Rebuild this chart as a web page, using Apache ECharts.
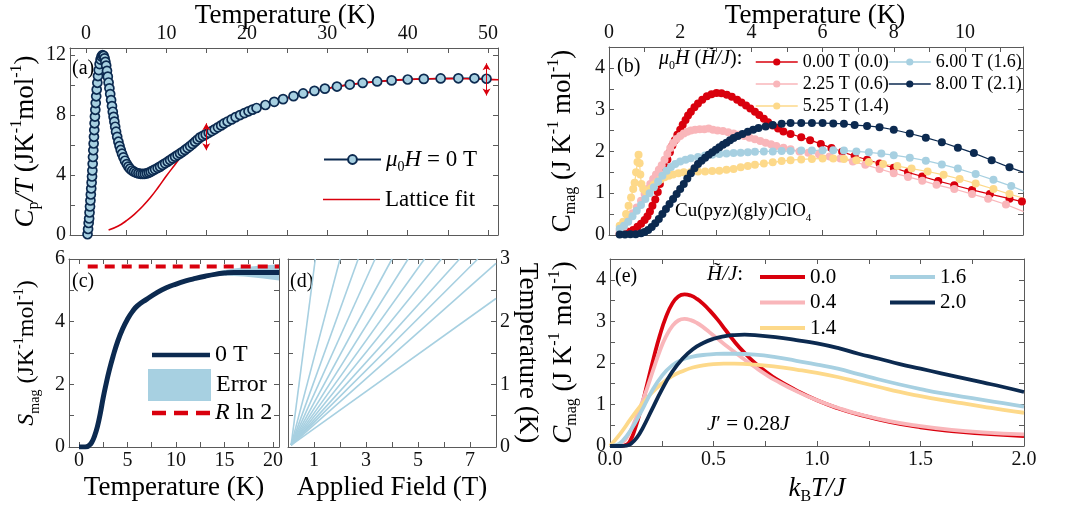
<!DOCTYPE html>
<html>
<head>
<meta charset="utf-8">
<script src="https://cdn.jsdelivr.net/npm/echarts@6/dist/echarts.min.js"></script>
<style>
  html, body { margin: 0; padding: 0; background: #fff; }
  #chart { width: 1074px; height: 514px; }
</style>
</head>
<body>
<div id="chart"></div>
<script>
// ---- panel (a): Cp/T vs T ----
const cpData = [[0.18,0.05],[0.25,0.4],[0.32,0.8],[0.38,1.1],[0.43,1.5],[0.49,1.9],[0.54,2.3],[0.59,2.7],[0.64,3.1],[0.69,3.5],[0.74,3.9],[0.78,4.3],[0.82,4.75],[0.86,5.2],[0.9,5.65],[0.94,6.1],[0.98,6.55],[1.02,7.0],[1.06,7.45],[1.1,7.9],[1.15,8.35],[1.2,8.8],[1.26,9.25],[1.32,9.7],[1.4,10.15],[1.48,10.6],[1.57,11.0],[1.68,11.4],[1.8,11.7],[1.92,11.9],[2.05,12.0],[2.18,11.95],[2.3,11.78],[2.4,11.55],[2.5,11.3],[2.6,10.95],[2.7,10.56],[2.8,10.17],[2.9,9.78],[3.0,9.4],[3.11,9.0],[3.22,8.6],[3.32,8.22],[3.42,7.88],[3.52,7.56],[3.62,7.22],[3.73,6.89],[3.87,6.55],[4.02,6.22],[4.16,5.93],[4.31,5.67],[4.47,5.42],[4.64,5.18],[4.84,4.95],[5.06,4.73],[5.26,4.56],[5.47,4.42],[5.72,4.3],[5.97,4.22],[6.24,4.15],[6.51,4.11],[6.78,4.08],[7.05,4.07],[7.3,4.08],[7.55,4.11],[7.8,4.16],[8.04,4.22],[8.3,4.3],[8.58,4.38],[8.9,4.47],[9.2,4.56],[9.5,4.67],[9.83,4.78],[10.15,4.89],[10.45,5.0],[10.76,5.11],[11.07,5.22],[11.38,5.33],[11.69,5.44],[12.0,5.55],[12.3,5.67],[12.62,5.8],[12.94,5.93],[13.25,6.07],[13.56,6.22],[13.87,6.37],[14.18,6.51],[14.53,6.61],[14.88,6.71],[15.25,6.82],[15.63,6.93],[16.0,7.05],[16.4,7.18],[16.8,7.31],[17.16,7.44],[17.6,7.57],[18.1,7.71],[18.6,7.86],[19.15,8.0],[19.7,8.13],[20.2,8.25],[20.7,8.36],[21.2,8.47],[22.3,8.67],[23.4,8.88],[24.5,9.06],[25.8,9.26],[27.0,9.44],[28.4,9.61],[29.7,9.76],[31.2,9.9],[32.8,10.03],[34.4,10.14],[36.2,10.24],[38.0,10.31],[40.0,10.37],[42.0,10.41],[44.1,10.44],[46.3,10.45],[48.3,10.45],[49.8,10.42]]
const latticeFit = [[2.8,0.33],[4,0.6],[5,0.95],[6,1.38],[7,1.9],[8,2.5],[9,3.2],[10,3.95],[11,4.65],[12,5.34],[13,5.88],[14,6.32],[15,6.7],[16,7.02],[17,7.33],[18,7.65],[19,7.95],[20,8.2],[22,8.63],[24,8.98],[26,9.28],[28,9.54],[30,9.77],[32,9.96],[34,10.11],[36,10.22],[38,10.31],[40,10.37],[42,10.41],[44,10.43],[46,10.43],[48,10.41],[50,10.38],[51.3,10.35]]
const fitArrows = [[14.95, 7.45, 5.65], [49.8, 11.45, 9.3]]   // T, top, bottom

// ---- panel (b): Cmag vs T, five fields ----
const b000 = [[0.3,0.03],[0.42,0.05],[0.55,0.08],[0.68,0.12],[0.8,0.2],[0.9,0.27],[1.0,0.36],[1.08,0.45],[1.15,0.56],[1.22,0.7],[1.3,0.85],[1.37,1.03],[1.43,1.22],[1.5,1.42],[1.57,1.62],[1.64,1.81],[1.71,1.98],[1.78,2.14],[1.85,2.27],[1.92,2.4],[2.0,2.52],[2.07,2.64],[2.15,2.75],[2.22,2.86],[2.3,2.95],[2.4,3.06],[2.5,3.15],[2.62,3.24],[2.75,3.32],[2.88,3.37],[3.02,3.4],[3.16,3.39],[3.31,3.36],[3.45,3.31],[3.6,3.24],[3.72,3.17],[3.85,3.1],[3.97,3.03],[4.1,2.95],[4.22,2.87],[4.35,2.78],[4.47,2.7],[4.6,2.62],[4.75,2.55],[4.9,2.48],[5.1,2.42],[5.4,2.34],[5.65,2.27],[5.95,2.18],[6.25,2.08],[6.55,1.99],[6.9,1.89],[7.25,1.8],[7.6,1.71],[8.0,1.61],[8.4,1.5],[8.8,1.4],[9.25,1.29],[9.7,1.19],[10.2,1.08],[10.7,0.98],[11.25,0.87],[11.6,0.8]]
const b225 = [[0.3,0.1],[0.42,0.2],[0.54,0.36],[0.66,0.52],[0.78,0.66],[0.9,0.82],[1.0,0.98],[1.08,1.1],[1.16,1.22],[1.24,1.34],[1.32,1.45],[1.4,1.56],[1.48,1.67],[1.56,1.8],[1.64,1.94],[1.72,2.08],[1.8,2.2],[1.9,2.3],[2.0,2.37],[2.1,2.43],[2.2,2.47],[2.3,2.5],[2.42,2.52],[2.55,2.53],[2.68,2.53],[2.8,2.55],[2.92,2.52],[3.05,2.5],[3.2,2.49],[3.35,2.46],[3.5,2.43],[3.65,2.4],[3.8,2.37],[3.95,2.33],[4.1,2.29],[4.25,2.25],[4.4,2.21],[4.55,2.17],[4.7,2.13],[4.9,2.09],[5.1,2.05],[5.35,2.0],[5.6,1.97],[5.9,1.93],[6.2,1.88],[6.5,1.83],[6.85,1.76],[7.2,1.68],[7.6,1.58],[8.0,1.48],[8.4,1.39],[8.8,1.3],[9.2,1.2],[9.7,1.1],[10.2,0.98],[10.65,0.87],[11.15,0.73],[11.65,0.56]]
const b525 = [[0.3,0.22],[0.4,0.32],[0.48,0.5],[0.55,0.7],[0.62,0.9],[0.68,1.1],[0.72,1.25],[0.76,1.5],[0.8,1.75],[0.83,1.92],[0.86,1.72],[0.88,1.45],[0.91,1.22],[0.96,1.1],[1.03,1.05],[1.1,1.06],[1.18,1.12],[1.26,1.2],[1.35,1.27],[1.45,1.33],[1.56,1.38],[1.68,1.42],[1.8,1.45],[1.95,1.48],[2.1,1.5],[2.3,1.51],[2.5,1.52],[2.7,1.52],[2.9,1.53],[3.1,1.54],[3.3,1.56],[3.5,1.58],[3.7,1.62],[3.9,1.65],[4.1,1.68],[4.35,1.71],[4.6,1.74],[4.85,1.77],[5.1,1.79],[5.4,1.81],[5.7,1.82],[6.0,1.83],[6.3,1.83],[6.6,1.82],[6.95,1.79],[7.3,1.75],[7.7,1.7],[8.1,1.65],[8.5,1.59],[8.95,1.52],[9.4,1.44],[9.85,1.34],[10.3,1.23],[10.8,1.1],[11.25,0.98],[11.65,0.88]]
const b600 = [[0.3,0.15],[0.42,0.22],[0.54,0.32],[0.66,0.45],[0.78,0.58],[0.9,0.72],[1.02,0.86],[1.14,1.0],[1.26,1.14],[1.38,1.28],[1.5,1.42],[1.62,1.54],[1.74,1.63],[1.86,1.7],[2.0,1.76],[2.15,1.8],[2.3,1.84],[2.5,1.87],[2.7,1.9],[2.9,1.92],[3.1,1.94],[3.3,1.95],[3.5,1.96],[3.7,1.97],[3.9,1.98],[4.1,1.99],[4.35,2.0],[4.6,2.0],[4.85,2.01],[5.1,2.01],[5.4,2.02],[5.7,2.02],[6.0,2.03],[6.3,2.03],[6.6,2.02],[6.95,2.0],[7.3,1.98],[7.65,1.95],[8.0,1.91],[8.45,1.85],[8.9,1.78],[9.35,1.69],[9.8,1.59],[10.3,1.46],[10.8,1.32],[11.3,1.17],[11.65,1.05]]
const b800 = [[0.3,0.01],[0.45,0.01],[0.6,0.02],[0.75,0.02],[0.9,0.04],[1.0,0.07],[1.1,0.12],[1.2,0.19],[1.3,0.28],[1.4,0.38],[1.5,0.5],[1.6,0.62],[1.7,0.74],[1.8,0.86],[1.9,0.98],[2.0,1.1],[2.1,1.22],[2.2,1.35],[2.3,1.48],[2.4,1.6],[2.5,1.7],[2.6,1.78],[2.7,1.85],[2.8,1.92],[2.9,1.98],[3.0,2.04],[3.1,2.1],[3.2,2.16],[3.3,2.21],[3.4,2.27],[3.5,2.32],[3.62,2.37],[3.75,2.42],[3.9,2.47],[4.05,2.52],[4.2,2.56],[4.4,2.6],[4.6,2.63],[4.85,2.66],[5.1,2.68],[5.4,2.68],[5.7,2.68],[6.0,2.68],[6.3,2.67],[6.6,2.66],[6.9,2.63],[7.25,2.61],[7.6,2.58],[8.0,2.52],[8.45,2.43],[8.9,2.33],[9.35,2.22],[9.8,2.09],[10.25,1.96],[10.75,1.79],[11.25,1.62],[11.65,1.5]]

// ---- panel (c): entropy ----
const sMag = [[0,0],[0.5,0],[0.8,0.01],[1.0,0.04],[1.3,0.14],[1.6,0.35],[1.9,0.65],[2.2,1.08],[2.5,1.58],[2.8,2.02],[3.1,2.42],[3.5,2.88],[4.0,3.38],[4.5,3.77],[5.0,4.08],[5.5,4.32],[6.0,4.5],[7.0,4.72],[8.0,4.92],[9.0,5.08],[10.0,5.2],[11.0,5.3],[12.0,5.38],[13.0,5.45],[14.0,5.51],[15.0,5.55],[16.0,5.57],[17.0,5.57],[18.0,5.57],[19.0,5.57],[20.0,5.57],[20.62,5.57]]
const errT = [12.5, 13, 14, 15, 16, 17, 18, 19, 20, 20.62]
const errLow = [5.4, 5.43, 5.46, 5.47, 5.46, 5.44, 5.41, 5.38, 5.34, 5.31]
const errHigh = [5.42, 5.5, 5.58, 5.65, 5.7, 5.74, 5.77, 5.8, 5.82, 5.83]
const rln2 = [[0.9, 5.76], [20.62, 5.76]]

// ---- panel (d): phase lines (field, temperature) ----
const dStart = [0.12, 0.03]
const dEndField = [1.05, 2.0, 2.7, 3.35, 4.0, 4.62, 5.25, 5.9, 6.6, 7.3, 8, 8]
const dEndTemp = [3, 3, 3, 3, 3, 3, 3, 3, 3, 3, 2.93, 2.37]

// ---- panel (e): model Cmag vs kBT/J ----
const e00 = [[0,0],[0.05,0],[0.08,0.03],[0.1,0.15],[0.12,0.4],[0.15,0.9],[0.18,1.5],[0.21,2.1],[0.24,2.65],[0.27,3.1],[0.3,3.42],[0.33,3.6],[0.36,3.65],[0.39,3.62],[0.42,3.54],[0.45,3.42],[0.48,3.27],[0.52,3.04],[0.56,2.78],[0.6,2.52],[0.65,2.24],[0.7,2.0],[0.75,1.8],[0.8,1.62],[0.9,1.34],[1.0,1.1],[1.1,0.91],[1.2,0.76],[1.35,0.58],[1.5,0.45],[1.65,0.36],[1.8,0.3],[2.0,0.24]]
const e04 = [[0,0],[0.03,0.01],[0.06,0.08],[0.09,0.28],[0.12,0.6],[0.15,0.98],[0.18,1.4],[0.21,1.85],[0.24,2.28],[0.27,2.63],[0.3,2.88],[0.33,3.02],[0.36,3.06],[0.39,3.03],[0.42,2.96],[0.45,2.86],[0.48,2.74],[0.52,2.58],[0.56,2.42],[0.6,2.27],[0.65,2.08],[0.7,1.9],[0.75,1.73],[0.8,1.58],[0.9,1.32],[1.0,1.1],[1.1,0.92],[1.2,0.77],[1.35,0.6],[1.5,0.48],[1.65,0.39],[1.8,0.33],[2.0,0.28]]
const e14 = [[0,0],[0.05,0.3],[0.1,0.65],[0.15,0.98],[0.2,1.27],[0.25,1.5],[0.3,1.68],[0.35,1.8],[0.4,1.89],[0.45,1.94],[0.5,1.97],[0.55,1.98],[0.6,1.98],[0.7,1.96],[0.8,1.91],[0.9,1.84],[1.0,1.76],[1.1,1.66],[1.2,1.54],[1.3,1.42],[1.4,1.3],[1.5,1.2],[1.6,1.11],[1.7,1.03],[1.8,0.95],[1.9,0.87],[2.0,0.8]]
const e16 = [[0,0],[0.03,0.02],[0.06,0.12],[0.1,0.38],[0.15,0.82],[0.2,1.3],[0.25,1.68],[0.3,1.94],[0.35,2.08],[0.4,2.15],[0.45,2.19],[0.5,2.21],[0.55,2.22],[0.6,2.22],[0.7,2.2],[0.8,2.14],[0.9,2.05],[1.0,1.96],[1.1,1.86],[1.2,1.73],[1.3,1.6],[1.4,1.48],[1.5,1.37],[1.6,1.27],[1.7,1.19],[1.8,1.11],[1.9,1.03],[2.0,0.95]]
const e20 = [[0,0],[0.05,0],[0.08,0.01],[0.1,0.05],[0.13,0.2],[0.16,0.45],[0.2,0.85],[0.25,1.35],[0.3,1.78],[0.35,2.1],[0.4,2.33],[0.45,2.48],[0.5,2.58],[0.55,2.64],[0.6,2.67],[0.65,2.68],[0.7,2.67],[0.8,2.62],[0.9,2.55],[1.0,2.47],[1.1,2.36],[1.2,2.22],[1.3,2.1],[1.4,1.97],[1.5,1.86],[1.6,1.75],[1.7,1.64],[1.8,1.53],[1.9,1.42],[2.0,1.3]]

const FONT = 'Liberation Serif'
const NAVY = '#0c2a50'
const LBLUE = '#a7d0e1'
const RED = '#d9000d'
const PINK = '#f9b6ba'
const YELLOW = '#fdd98a'
const FRAME = '#5a5a5a'

// rich text styles for sub/superscripts
function richSet(size) {
  const s = Math.round(size * 0.6)
  return {
    n: { fontFamily: FONT, fontSize: size, lineHeight: size + 6, color: '#000' },
    i: { fontFamily: FONT, fontSize: size, lineHeight: size + 6, fontStyle: 'italic', color: '#000' },
    sub: { fontFamily: FONT, fontSize: s, lineHeight: s, verticalAlign: 'bottom', color: '#000' },
    sup: { fontFamily: FONT, fontSize: s, lineHeight: s, verticalAlign: 'top', color: '#000' }
  }
}

function range(a, b, step) {
  const out = []
  for (let v = a; v <= b + 1e-9; v += step) out.push(Math.round(v * 1000) / 1000)
  return out
}

function axis(gridIndex, position, min, max, ticks, labels, more) {
  const a = {
    type: 'value', gridIndex, position, min, max,
    axisLine: { show: true, onZero: false, lineStyle: { color: FRAME, width: 1 } },
    axisTick: { show: true, inside: true, length: 5, customValues: ticks, lineStyle: { color: FRAME } },
    axisLabel: labels
      ? { show: true, customValues: labels, color: '#111', fontFamily: FONT, fontSize: 20, margin: 4 }
      : { show: false },
    splitLine: { show: false }
  }
  return Object.assign(a, more || {})
}

const xAxis = [
  axis(0, 'top', -2, 51.23, range(0, 50, 5), range(0, 50, 10)),
  axis(0, 'bottom', -2, 51.23, range(0, 50, 5), null),
  axis(1, 'top', 0, 11.63, range(0, 11, 1), range(0, 10, 2)),
  axis(1, 'bottom', 0, 11.63, range(1.5, 10.5, 1.5), null),
  axis(2, 'bottom', -1.03, 20.62, range(0, 20, 2.5), range(0, 20, 5), {
    name: 'Temperature (K)', nameLocation: 'middle', nameGap: 27,
    nameTextStyle: { fontFamily: FONT, fontSize: 27, color: '#000' }
  }),
  axis(2, 'top', -1.03, 20.62, range(0, 20, 2.5), null),
  axis(3, 'bottom', 0, 8, range(1, 7, 1), [1, 3, 5, 7], {
    name: 'Applied Field (T)', nameLocation: 'middle', nameGap: 27,
    nameTextStyle: { fontFamily: FONT, fontSize: 27, color: '#000' }
  }),
  axis(3, 'top', 0, 8, range(1, 7, 1), null),
  axis(4, 'bottom', 0, 2, range(0, 2, 0.25), range(0, 2, 0.5), {
    name: '{i|k}{sub|B}{i|T/J}', nameLocation: 'middle', nameGap: 26,
    nameTextStyle: { rich: richSet(27) }
  }),
  axis(4, 'top', 0, 2, range(0, 2, 0.25), null)
]
xAxis[8].axisLabel.formatter = v => v.toFixed(1)

const yAxis = [
  axis(0, 'left', 0, 12.47, range(0, 12, 2), range(0, 12, 4), {
    name: '{i|C}{sub|p}{i|/T}{n| (JK}{sup|-1}{n|mol}{sup|-1}{n|)}',
    nameLocation: 'middle', nameGap: 26, nameTextStyle: { rich: richSet(27) }
  }),
  axis(0, 'right', 0, 12.47, range(0, 12, 2), null),
  axis(1, 'left', 0, 4.5, range(0, 4.5, 0.5), range(0, 4, 1), {
    name: '{n|C}{sub|mag}{n| (J K}{sup|-1}{n| mol}{sup|-1}{n|)}',
    nameLocation: 'middle', nameGap: 30, nameTextStyle: { rich: richSet(27) }
  }),
  axis(1, 'right', 0, 4.5, range(0, 4.5, 0.5), null),
  axis(2, 'left', 0, 6, range(0, 6, 1), range(0, 6, 2), {
    name: '{i|S}{sub|mag}{n| (JK}{sup|-1}{n|mol}{sup|-1}{n|)}',
    nameLocation: 'middle', nameGap: 27, nameTextStyle: { rich: richSet(24) }
  }),
  axis(2, 'right', 0, 6, range(0, 6, 1), null),
  axis(3, 'right', 0, 3, range(0, 3, 0.5), range(0, 3, 1), {
    name: 'Temperature (K)', nameLocation: 'middle', nameGap: 9, nameRotate: -90,
    nameTextStyle: { fontFamily: FONT, fontSize: 27, color: '#000' }
  }),
  axis(3, 'left', 0, 3, range(0, 3, 0.5), null),
  axis(4, 'left', 0, 4.5, range(0, 4.5, 0.5), range(0, 4, 1), {
    name: '{i|C}{sub|mag}{n| (J K}{sup|-1}{n| mol}{sup|-1}{n|)}',
    nameLocation: 'middle', nameGap: 30, nameTextStyle: { rich: richSet(27) }
  }),
  axis(4, 'right', 0, 4.5, range(0, 4.5, 0.5), null)
]

const series = []

// (a)
series.push({
  name: 'mu', type: 'line', xAxisIndex: 0, yAxisIndex: 0, data: cpData,
  symbol: 'circle', symbolSize: 9,
  itemStyle: { color: LBLUE, borderColor: NAVY, borderWidth: 1.7 },
  lineStyle: { color: NAVY, width: 1.5 }
})
series.push({
  name: 'Lattice fit', type: 'line', xAxisIndex: 0, yAxisIndex: 0, data: latticeFit,
  symbol: 'none', smooth: true, color: RED, lineStyle: { color: RED, width: 1.6 },
  markLine: {
    silent: true, symbol: ['arrow', 'arrow'], symbolSize: [6, 7],
    lineStyle: { color: RED, width: 1, type: 'solid' }, label: { show: false },
    data: fitArrows.map(a => [{ coord: [a[0], a[1]] }, { coord: [a[0], a[2]] }])
  }
})

// (b)
const bSets = [
  ['0.00 T (0.0)', b000, RED],
  ['2.25 T (0.6)', b225, PINK],
  ['5.25 T (1.4)', b525, YELLOW],
  ['6.00 T (1.6)', b600, LBLUE],
  ['8.00 T (2.1)', b800, NAVY]
]
bSets.forEach(s => series.push({
  name: s[0], type: 'line', xAxisIndex: 2, yAxisIndex: 2, data: s[1],
  symbol: 'circle', symbolSize: 8, color: s[2],
  itemStyle: { color: s[2] }, lineStyle: { color: s[2], width: 1.2 }
}))

// (c) error band as a polygon between the low and high curves
series.push({
  name: 'Error', type: 'custom', xAxisIndex: 4, yAxisIndex: 4, color: LBLUE,
  itemStyle: { color: LBLUE }, data: [0], clip: true,
  renderItem: (params, api) => {
    const pts = errT.map((t, i) => api.coord([t, errHigh[i]]))
    for (let i = errT.length - 1; i >= 0; i--) pts.push(api.coord([errT[i], errLow[i]]))
    return { type: 'polygon', shape: { points: pts }, style: { fill: LBLUE } }
  }
})
series.push({
  name: '0 T', type: 'line', xAxisIndex: 4, yAxisIndex: 4, data: sMag, symbol: 'none', smooth: true,
  color: NAVY, lineStyle: { color: NAVY, width: 5 }
})
series.push({
  name: 'R ln 2', type: 'line', xAxisIndex: 4, yAxisIndex: 4, data: rln2, symbol: 'none',
  color: RED, lineStyle: { color: RED, width: 4, type: [10, 7] }
})

// (d)
dEndField.forEach((f, i) => series.push({
  name: 'd' + i, type: 'line', xAxisIndex: 6, yAxisIndex: 6, symbol: 'none',
  data: [dStart, [f, dEndTemp[i]]], lineStyle: { color: LBLUE, width: 1.6 }
}))

// (e)
const eSets = [['0.0', e00, RED], ['0.4', e04, PINK], ['1.4', e14, YELLOW], ['1.6', e16, LBLUE], ['2.0', e20, NAVY]]
eSets.forEach(s => series.push({
  name: s[0], type: 'line', xAxisIndex: 8, yAxisIndex: 8, data: s[1], symbol: 'none', smooth: true,
  color: s[2], lineStyle: { color: s[2], width: 3.8 }
}))
series.forEach(s => { s.silent = true; s.emphasis = { disabled: true } })

// legends
const lg = (o) => Object.assign({ orient: 'vertical', selectedMode: false, padding: 0 }, o)
const dashIcon = 'path://M0,0h14v4.5h-14zM22,0h14v4.5h-14zM44,0h14v4.5h-14z'
const legends = [
  lg({ data: ['mu'], left: 323, top: 148, itemWidth: 57, itemHeight: 11,
    textStyle: { rich: richSet(23) }, formatter: () => '{i|μ}{sub|0}{i|H}{n| = 0 T}' }),
  lg({ data: [{ name: 'Lattice fit', icon: 'rect' }], left: 323, top: 188, itemWidth: 57, itemHeight: 1.6,
    textStyle: { fontFamily: FONT, fontSize: 23, color: '#000' } }),
  lg({ data: ['0.00 T (0.0)', '2.25 T (0.6)', '5.25 T (1.4)'], left: 755, top: 52,
    itemWidth: 42, itemHeight: 9, itemGap: 2, lineStyle: { width: 1.5 },
    textStyle: { fontFamily: FONT, fontSize: 18, color: '#000', lineHeight: 20 } }),
  lg({ data: ['6.00 T (1.6)', '8.00 T (2.1)'], left: 888, top: 52,
    itemWidth: 42, itemHeight: 9, itemGap: 2, lineStyle: { width: 1.5 },
    textStyle: { fontFamily: FONT, fontSize: 18, color: '#000', lineHeight: 20 } }),
  lg({ data: [{ name: '0 T', icon: 'rect' }], left: 152, top: 341, itemWidth: 58, itemHeight: 4.5,
    textStyle: { fontFamily: FONT, fontSize: 24, color: '#000', lineHeight: 28 } }),
  lg({ data: [{ name: 'Error', icon: 'rect' }], left: 148, top: 369, itemWidth: 63, itemHeight: 32,
    textStyle: { fontFamily: FONT, fontSize: 24, color: '#000' } }),
  lg({ data: [{ name: 'R ln 2', icon: dashIcon }], left: 152, top: 401, itemWidth: 58, itemHeight: 4.5,
    textStyle: { rich: richSet(24) }, formatter: () => '{i|R}{n| ln 2}' }),
  lg({ data: ['0.0', '0.4', '1.4'].map(n => ({ name: n, icon: 'rect' })), left: 760, top: 265,
    itemWidth: 45, itemHeight: 3.8, itemGap: 1.5,
    textStyle: { fontFamily: FONT, fontSize: 21, color: '#000', lineHeight: 24 } }),
  lg({ data: ['1.6', '2.0'].map(n => ({ name: n, icon: 'rect' })), left: 890, top: 265,
    itemWidth: 45, itemHeight: 3.8, itemGap: 1.5,
    textStyle: { fontFamily: FONT, fontSize: 21, color: '#000', lineHeight: 24 } })
]

function label(text, left, top, size, rich) {
  return {
    type: 'text', left, top, silent: true,
    style: { text, rich: rich || undefined, font: size + 'px "' + FONT + '"', fill: '#000' }
  }
}
function title(text, x, y) {
  return {
    type: 'text', x, y, silent: true,
    style: { text, font: '27px "' + FONT + '"', fill: '#000', align: 'center', verticalAlign: 'middle' }
  }
}

const graphic = [
  title('Temperature (K)', 285, 16),
  title('Temperature (K)', 815, 16),
  label('(a)', 72, 59, 20),
  label('(b)', 617, 57, 20),
  label('(c)', 72, 272, 20),
  label('(d)', 290, 272, 20),
  label('(e)', 615, 267, 20),
  label('{i|μ}{sub|0}{i|H}{n| (}{i|H\u0303/J}{n|):}', 659, 49, 20, richSet(20)),
  label('{n|Cu(pyz)(gly)ClO}{sub|4}', 675, 202, 19, richSet(19)),
  label('{i|H\u0303/J}{n|:}', 707, 264, 21, richSet(21)),
  label('{i|J}{n|\u2032 = 0.28}{i|J}', 707, 414, 21, richSet(21))
]

const chart = echarts.init(document.getElementById('chart'))
chart.setOption({
  animation: false,
  backgroundColor: '#fff',
  grid: [
    { left: 70, top: 48, width: 428, height: 187 },
    { left: 609, top: 47, width: 414, height: 188 },
    { left: 69, top: 259, width: 210, height: 188 },
    { left: 288, top: 259, width: 208, height: 188 },
    { left: 610, top: 259, width: 414, height: 187 }
  ],
  xAxis,
  yAxis,
  legend: legends,
  graphic,
  series
})
</script>
</body>
</html>
